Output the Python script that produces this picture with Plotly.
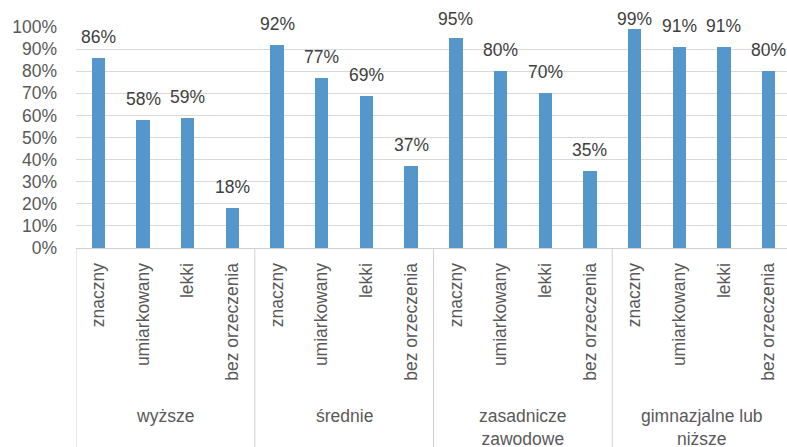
import plotly.graph_objects as go

groups = ["wyższe", "średnie", "zasadnicze<br>zawodowe", "gimnazjalne lub<br>niższe"]
levels = ["znaczny", "umiarkowany", "lekki", "bez orzeczenia"]
values = [86, 58, 59, 18,
          92, 77, 69, 37,
          95, 80, 70, 35,
          99, 91, 91, 80]
y_ticks = list(range(0, 101, 10))

FONT = "Liberation Sans"
LABEL_CAP = 94  # labels are kept inside the chart area (like the original)
n = len(groups) * len(levels)
xs = list(range(n))
cats = [lv for g in groups for lv in levels]

fig = go.Figure()
fig.add_trace(go.Bar(
    x=xs, y=values, width=0.30,
    marker=dict(color="#5596CB", line=dict(width=0)),
    hoverinfo="skip",
))

# data labels
for x, v in zip(xs, values):
    fig.add_annotation(x=x, y=min(v, LABEL_CAP), xref="x", yref="y", text=f"{v}%",
                       showarrow=False, yanchor="bottom", yshift=9,
                       font=dict(family=FONT, size=17.5, color="#404040"))

# group labels
for gi, g in enumerate(groups):
    cx = gi * len(levels) + (len(levels) - 1) / 2
    fig.add_annotation(x=cx, y=-0.705, xref="x", yref="paper", text=g,
                       showarrow=False, yanchor="top", xanchor="center",
                       font=dict(family=FONT, size=17.5, color="#595959"))

# separators below the axis
for gi in range(len(groups) + 1):
    bx = gi * len(levels) - 0.5
    fig.add_shape(type="line", xref="x", yref="paper", x0=bx, x1=bx,
                  y0=0, y1=-1.0, line=dict(color="#D0D0D0", width=1))

fig.update_layout(
    width=787, height=447,
    margin=dict(l=76, r=0, t=27, b=199),
    paper_bgcolor="white", plot_bgcolor="white",
    showlegend=False,
    bargap=0,
    xaxis=dict(
        range=[-0.5, 15.41],
        tickmode="array", tickvals=xs, ticktext=cats,
        tickangle=-90, ticks="", ticklabelstandoff=7,
        tickfont=dict(family=FONT, size=17.5, color="#595959"),
        showgrid=False, zeroline=False,
        showline=True, linecolor="#D0D0D0", linewidth=1,
    ),
    yaxis=dict(
        range=[0, 100],
        tickvals=y_ticks, ticktext=[f"{t}%" for t in y_ticks],
        tickfont=dict(family=FONT, size=17.5, color="#595959"),
        showgrid=True, gridcolor="#D9D9D9", gridwidth=1,
        zeroline=False, showline=False, ticks="", ticklabelstandoff=18,
    ),
)

fig.write_html("out.html")
